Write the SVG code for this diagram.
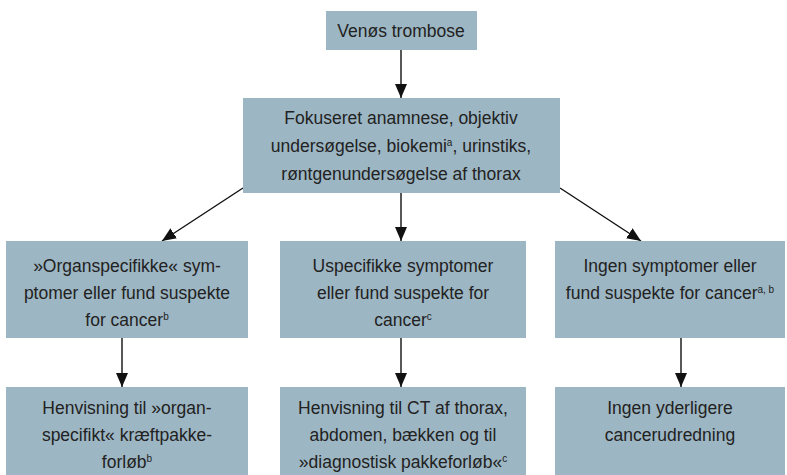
<svg xmlns="http://www.w3.org/2000/svg" width="787" height="475" viewBox="0 0 787 475">
<defs>
<marker id="ah" markerWidth="14" markerHeight="12" refX="14" refY="6" orient="auto" markerUnits="userSpaceOnUse" viewBox="0 0 14 12">
<path d="M0,0 L14,6 L0,12 Z" fill="#111"/>
</marker>
<style>
.b{fill:#9db6c3}
.t{font-family:"Liberation Sans",Arial,sans-serif;font-size:17.5px;fill:#222;text-anchor:middle}
.s{font-size:10px}
.c{stroke:#111;stroke-width:1.4;fill:none;marker-end:url(#ah)}
</style>
</defs>
<rect width="787" height="475" fill="#fff"/>
<g id="connectors">
<line class="c" x1="401" y1="50" x2="401" y2="98"/>
<line class="c" x1="243" y1="188" x2="162" y2="241"/>
<line class="c" x1="401" y1="193" x2="401" y2="241"/>
<line class="c" x1="560" y1="188" x2="641" y2="241"/>
<line class="c" x1="122" y1="338" x2="122" y2="387"/>
<line class="c" x1="401" y1="338" x2="401" y2="387"/>
<line class="c" x1="681" y1="338" x2="681" y2="387"/>
</g>
<g id="n1"><rect class="b" x="326" y="11" width="151" height="39"/>
<text class="t" x="401" y="37">Venøs trombose</text></g>
<g id="n2"><rect class="b" x="243" y="98" width="317" height="95"/>
<text class="t" x="401" y="124">Fokuseret anamnese, objektiv</text>
<text class="t" x="401" y="152">undersøgelse, biokemi<tspan class="s" dy="-6">a</tspan><tspan dy="6">, urinstiks,</tspan></text>
<text class="t" x="401" y="180">røntgenundersøgelse af thorax</text></g>
<g id="n3"><rect class="b" x="6" y="241" width="242" height="97"/>
<text class="t" x="127" y="272">»Organspecifikke« sym-</text>
<text class="t" x="127" y="299">ptomer eller fund suspekte</text>
<text class="t" x="127" y="326">for cancer<tspan class="s" dy="-6">b</tspan></text></g>
<g id="n4"><rect class="b" x="280" y="241" width="246" height="97"/>
<text class="t" x="403" y="272">Uspecifikke symptomer</text>
<text class="t" x="403" y="299">eller fund suspekte for</text>
<text class="t" x="403" y="326">cancer<tspan class="s" dy="-6">c</tspan></text></g>
<g id="n5"><rect class="b" x="555" y="241" width="230" height="97"/>
<text class="t" x="670" y="272">Ingen symptomer eller</text>
<text class="t" x="670" y="299">fund suspekte for cancer<tspan class="s" dy="-6">a, b</tspan></text></g>
<g id="n6"><rect class="b" x="6" y="387" width="242" height="88"/>
<text class="t" x="127" y="414">Henvisning til »organ-</text>
<text class="t" x="127" y="441">specifikt« kræftpakke-</text>
<text class="t" x="127" y="468">forløb<tspan class="s" dy="-6">b</tspan></text></g>
<g id="n7"><rect class="b" x="280" y="387" width="246" height="88"/>
<text class="t" x="403" y="414">Henvisning til CT af thorax,</text>
<text class="t" x="403" y="441">abdomen, bækken og til</text>
<text class="t" x="403" y="468">»diagnostisk pakkeforløb«<tspan class="s" dy="-6">c</tspan></text></g>
<g id="n8"><rect class="b" x="555" y="387" width="230" height="88"/>
<text class="t" x="670" y="414">Ingen yderligere</text>
<text class="t" x="670" y="441">cancerudredning</text></g>
</svg>
